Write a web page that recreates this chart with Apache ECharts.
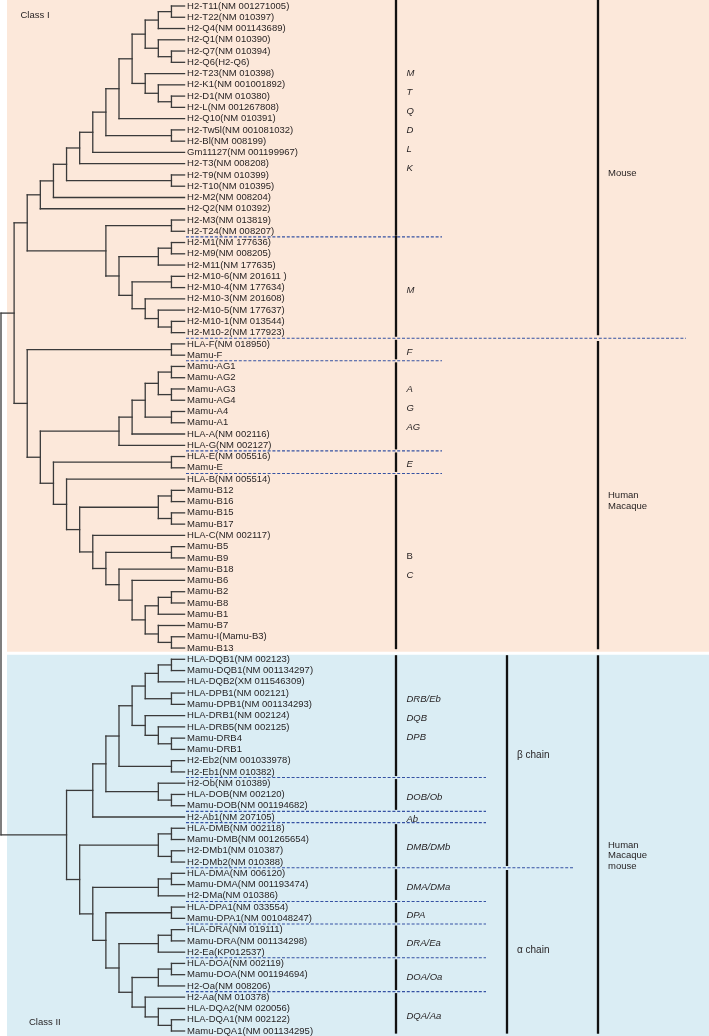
<!DOCTYPE html>
<html><head><meta charset="utf-8">
<script src="https://cdn.jsdelivr.net/npm/echarts/dist/echarts.min.js"></script>
<style>html,body{margin:0;padding:0;background:#fff}#c{width:709px;height:1036px}</style>
</head><body><div id="c"></div>
<script>
// ---------------- DATA ----------------
// Cladogram: internal node = [level, child, child]; leaf = label string (leaf tip level = 14)
const mouseClassI = [2,
  [3,
    [4,
      [5,
        [6,
          [7,
            [8,
              [9,
                [10,
                  [11,
                    [12, [13, 'H2-T11(NM 001271005)', 'H2-T22(NM 010397)'], 'H2-Q4(NM 001143689)'],
                    [12, 'H2-Q1(NM 010390)', [13, 'H2-Q7(NM 010394)', 'H2-Q6(H2-Q6)']]],
                  [11, 'H2-T23(NM 010398)', [12, 'H2-K1(NM 001001892)', [13, 'H2-D1(NM 010380)', 'H2-L(NM 001267808)']]]],
                'H2-Q10(NM 010391)'],
              [13, 'H2-Tw5l(NM 001081032)', 'H2-Bl(NM 008199)']],
            'Gm11127(NM 001199967)'],
          'H2-T3(NM 008208)'],
        [13, 'H2-T9(NM 010399)', 'H2-T10(NM 010395)']],
      'H2-M2(NM 008204)'],
    'H2-Q2(NM 010392)'],
  [8, [13, 'H2-M3(NM 013819)', 'H2-T24(NM 008207)'],
    [9, [12, [13, 'H2-M1(NM 177636)', 'H2-M9(NM 008205)'], 'H2-M11(NM 177635)'],
      [10, [13, 'H2-M10-6(NM 201611 )', 'H2-M10-4(NM 177634)'],
        [11, 'H2-M10-3(NM 201608)', [12, 'H2-M10-5(NM 177637)', [13, 'H2-M10-1(NM 013544)', 'H2-M10-2(NM 177923)']]]]]]
];
const primateClassI = [2,
  [13, 'HLA-F(NM 018950)', 'Mamu-F'],
  [3,
    [9, [10, [11, [12, [13, 'Mamu-AG1', 'Mamu-AG2'], [13, 'Mamu-AG3', 'Mamu-AG4']], [13, 'Mamu-A4', 'Mamu-A1']], 'HLA-A(NM 002116)'], 'HLA-G(NM 002127)'],
    [4, [13, 'HLA-E(NM 005516)', 'Mamu-E'],
      [5, 'HLA-B(NM 005514)',
        [6, [12, [13, 'Mamu-B12', 'Mamu-B16'], [13, 'Mamu-B15', 'Mamu-B17']],
          [7, 'HLA-C(NM 002117)',
            [8, [13, 'Mamu-B5', 'Mamu-B9'],
              [9, 'Mamu-B18',
                [10, 'Mamu-B6',
                  [11, [12, [13, 'Mamu-B2', 'Mamu-B8'], 'Mamu-B1'],
                    [12, 'Mamu-B7', [13, 'Mamu-I(Mamu-B3)', 'Mamu-B13']]]]]]]]]]]
];
const classIIBeta = [7,
  [8,
    [9,
      [10,
        [11, [12, [13, 'HLA-DQB1(NM 002123)', 'Mamu-DQB1(NM 001134297)'], 'HLA-DQB2(XM 011546309)'], [13, 'HLA-DPB1(NM 002121)', 'Mamu-DPB1(NM 001134293)']],
        [11, 'HLA-DRB1(NM 002124)', [12, 'HLA-DRB5(NM 002125)', [13, 'Mamu-DRB4', 'Mamu-DRB1']]]],
      [13, 'H2-Eb2(NM 001033978)', 'H2-Eb1(NM 010382)']],
    [12, 'H2-Ob(NM 010389)', [13, 'HLA-DOB(NM 002120)', 'Mamu-DOB(NM 001194682)']]],
  'H2-Ab1(NM 207105)'
];
const classIIAlpha = [6,
  [12, [13, 'HLA-DMB(NM 002118)', 'Mamu-DMB(NM 001265654)'], [13, 'H2-DMb1(NM 010387)', 'H2-DMb2(NM 010388)']],
  [7,
    [12, [13, 'HLA-DMA(NM 006120)', 'Mamu-DMA(NM 001193474)'], 'H2-DMa(NM 010386)'],
    [8, [13, 'HLA-DPA1(NM 033554)', 'Mamu-DPA1(NM 001048247)'],
      [9, [12, [13, 'HLA-DRA(NM 019111)', 'Mamu-DRA(NM 001134298)'], 'H2-Ea(KP012537)'],
        [10, [12, [13, 'HLA-DOA(NM 002119)', 'Mamu-DOA(NM 001194694)'], 'H2-Oa(NM 008206)'],
          [11, 'H2-Aa(NM 010378)', [12, 'HLA-DQA2(NM 020056)', [13, 'HLA-DQA1(NM 002122)', 'Mamu-DQA1(NM 001134295)']]]]]]]
];
const fullTree = [0, [1, mouseClassI, primateClassI], [5, classIIBeta, classIIAlpha]];

// Gene-group column (leaf index ranges, labels)
const geneGroupsI = [
  {from: 0, to: 20, text: ['M', 'T', 'Q', 'D', 'L', 'K']},
  {from: 21, to: 29, text: ['M'], join: true},
  {from: 30, to: 31, text: ['F']},
  {from: 32, to: 39, text: ['A', 'G', 'AG']},
  {from: 40, to: 41, text: ['E']},
  {from: 42, to: 57, text: ['B', 'C']}
];
const geneGroupsII = [
  {from: 58, to: 68, text: ['DRB/Eb', 'DQB', 'DPB']},
  {from: 69, to: 71, text: ['DOB/Ob']},
  {from: 72, to: 72, text: ['Ab'], noBar: true},
  {from: 73, to: 76, text: ['DMB/DMb']},
  {from: 77, to: 79, text: ['DMA/DMa']},
  {from: 80, to: 81, text: ['DPA']},
  {from: 82, to: 84, text: ['DRA/Ea']},
  {from: 85, to: 87, text: ['DOA/Oa']},
  {from: 88, to: 91, text: ['DQA/Aa']}
];
const uprightLabels = ['B'];
const chainGroups = [
  {from: 58, to: 76, text: ['β chain']},
  {from: 77, to: 91, text: ['α chain']}
];
const speciesGroups = [
  {from: 0, to: 29, text: ['Mouse']},
  {from: 30, to: 57, text: ['Human', 'Macaque']},
  {from: 58, to: 91, text: ['Human', 'Macaque', 'mouse']}
];
const classTitles = ['Class I', 'Class II'];

// ---------------- LAYOUT (style / position constants) ----------------
const LEAF_LEVEL = 14;
const FONT = '"Liberation Sans", Arial, Helvetica, sans-serif';
const TXT = '#231f20';
const TREE_C = '#3a3a3a';
const DASH_C = '#3552a3';
const X_GENE = 396, X_CHAIN = 507, X_SPEC = 598;
const X_GENE_TXT = 406.5, X_CHAIN_TXT = 517, X_SPEC_TXT = 608;
const DASH_X0 = 186;
const LABEL_ANCHOR = {chain: [66.55, 83.87], species: [14.85, 43.95, 75.45]};

// ---------------- BUILD ----------------
const segs = [];
const leaves = [];
let counter = 0;
function walk(node) {
  if (typeof node === 'string') {
    const y = counter++;
    leaves.push([LEAF_LEVEL, y, node]);
    return {x: LEAF_LEVEL, y: y};
  }
  const lvl = node[0];
  const kids = node.slice(1).map(walk);
  const y = (kids[0].y + kids[kids.length - 1].y) / 2;
  segs.push([lvl, kids[0].y, lvl, kids[kids.length - 1].y]);
  kids.forEach(k => segs.push([lvl, k.y, k.x, k.y]));
  return {x: lvl, y: y};
}
walk(fullTree);

const chart = echarts.init(document.getElementById('c'), null, {renderer: 'canvas'});

function txt(x, y, s, opt) {
  opt = opt || {};
  return {type: 'text', x: x, y: y, silent: true,
    style: {text: s, fill: TXT, fontSize: opt.size || 9.5, fontFamily: FONT,
      fontStyle: opt.italic ? 'italic' : 'normal', align: 'left', verticalAlign: 'middle'}};
}
function vline(x, y1, y2, w) {
  return {type: 'line', silent: true, shape: {x1: x, y1: y1, x2: x, y2: y2}, style: {stroke: '#111', lineWidth: w || 2.3}};
}
function dash(x1, x2, y) {
  return {type: 'line', silent: true, shape: {x1: x1, y1: y, x2: x2, y2: y}, style: {stroke: DASH_C, lineWidth: 1.1, lineDash: [3, 1.8]}};
}

function renderDecor(params, api) {
  const Y = i => api.coord([0, i])[1];
  const split = Y(57.5);
  const secI = {top: 0, bot: split - 4.5, first: 0, last: 57};
  const secII = {top: split + 1.5, bot: Y(91.5) - 3, first: 58, last: 91};
  const sec = i => (i <= 57 ? secI : secII);
  const topOf = g => (g.from === sec(g.from).first ? sec(g.from).top : Y(g.from - 0.5) + 1.5);
  const botOf = g => (g.to === sec(g.to).last ? sec(g.to).bot : Y(g.to + 0.5) - 1.5);
  const children = [];
  const doGenes = (groups, shortEnd, longEnd, longAfter) => {
    groups.forEach((g, k) => {
      let t = topOf(g);
      if (g.join) t = Y(g.from - 0.5) - 1.5;
      if (!g.noBar) children.push(vline(X_GENE, t, botOf(g)));
      const c = Y((g.from + g.to) / 2) + 2.5;
      const n = g.text.length;
      g.text.forEach((s, i) => children.push(txt(X_GENE_TXT, c + (i - (n - 1) / 2) * 19, s, {italic: uprightLabels.indexOf(s) < 0})));
      if (k < groups.length - 1) {
        const long = longAfter.indexOf(g.to) >= 0;
        children.push(dash(DASH_X0, long ? longEnd : shortEnd, Y(g.to + 0.5)));
      }
    });
  };
  doGenes(geneGroupsI, 442, 686, speciesGroups.map(s => s.to));
  doGenes(geneGroupsII, 486, 574, chainGroups.map(s => s.to));
  chainGroups.forEach((g, k) => {
    const t = k === 0 ? topOf(g) : Y(g.from - 0.5) + 2.3;
    const b = k === chainGroups.length - 1 ? botOf(g) : Y(g.to + 0.5) - 1.7;
    children.push(vline(X_CHAIN, t, b));
    children.push(txt(X_CHAIN_TXT, Y(LABEL_ANCHOR.chain[k]), g.text[0], {size: 10}));
  });
  speciesGroups.forEach((g, k) => {
    const t = g.from === sec(g.from).first ? sec(g.from).top : Y(g.from - 0.5) + 2.7;
    const b = g.to === sec(g.to).last ? sec(g.to).bot : Y(g.to + 0.5) - 3;
    children.push(vline(X_SPEC, t, b));
    const c = Y(LABEL_ANCHOR.species[k]);
    const n = g.text.length;
    g.text.forEach((s, i) => children.push(txt(X_SPEC_TXT, c + (i - (n - 1) / 2) * 10.8, s)));
  });
  children.push(txt(20.5, 15.7, classTitles[0]));
  children.push(txt(29, 1022.7, classTitles[1]));
  return {type: 'group', children: children};
}

function renderBg(params, api) {
  const Y = i => api.coord([0, i])[1];
  const split = Y(57.5);
  return {type: 'group', children: [
    {type: 'rect', silent: true, shape: {x: 7, y: 0, width: 702, height: split - 2}, style: {fill: '#fce8da'}},
    {type: 'rect', silent: true, shape: {x: 7, y: split + 1, width: 702, height: 1036 - split - 1}, style: {fill: '#daedf4'}}
  ]};
}

chart.setOption({
  animation: false,
  backgroundColor: '#ffffff',
  grid: {left: 1, top: 6, width: 710, height: 1025},
  xAxis: {type: 'value', min: 0, max: 54, show: false},
  yAxis: {type: 'value', min: 0, max: 91, inverse: true, show: false},
  series: [
    {type: 'custom', name: 'bg', z: 0, clip: false, data: [[0, 0]], encode: {x: 0, y: 1}, renderItem: renderBg},
    {type: 'custom', name: 'tree', z: 2, clip: false, data: segs, encode: {x: [0, 2], y: [1, 3]},
      renderItem: function (params, api) {
        const p1 = api.coord([api.value(0), api.value(1)]);
        const p2 = api.coord([api.value(2), api.value(3)]);
        return {type: 'line', silent: true, shape: {x1: p1[0], y1: p1[1], x2: p2[0], y2: p2[1]},
          style: {stroke: TREE_C, lineWidth: 1.3, lineCap: 'square'}};
      }},
    {type: 'custom', name: 'labels', z: 3, clip: false, data: leaves.map(l => [l[0], l[1]]), encode: {x: 0, y: 1},
      renderItem: function (params, api) {
        const p = api.coord([api.value(0), api.value(1)]);
        return txt(p[0] + 2.5, p[1], leaves[params.dataIndex][2]);
      }},
    {type: 'custom', name: 'decor', z: 4, clip: false, data: [[0, 0]], encode: {x: 0, y: 1}, renderItem: renderDecor}
  ]
});
</script>
</body></html>
